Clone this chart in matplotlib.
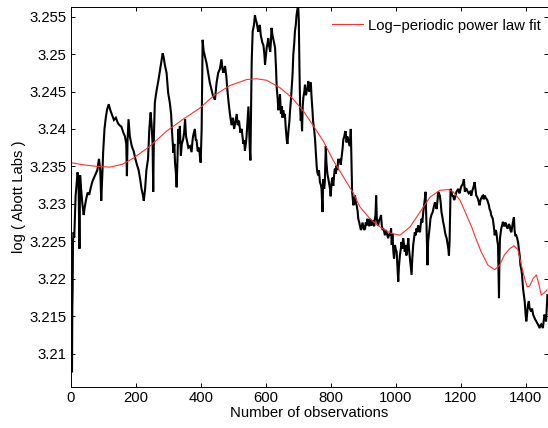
import matplotlib
matplotlib.use("Agg")
import matplotlib.pyplot as plt
import numpy as np

plt.rcParams['font.family'] = ['Liberation Sans', 'DejaVu Sans']

# Observed log price series (observation index, value)
obs_idx = [
    0, 1, 2, 3, 4, 5, 6, 7, 9, 11, 13, 15, 18, 21, 24, 27, 29, 32, 36, 40,
    43, 47, 52, 57, 62, 67, 72, 77, 82, 87, 91, 94, 97, 100, 104, 108, 112, 117, 122, 128,
    133, 139, 145, 150, 156, 162, 167, 171, 173, 175, 178, 182, 188, 194, 199, 204, 209, 213, 218, 222,
    225, 229, 233, 238, 242, 246, 249, 252, 254, 256, 259, 262, 265, 270, 275, 279, 283, 286, 290, 295,
    300, 305, 309, 312, 316, 319, 321, 324, 326, 329, 331, 334, 336, 339, 342, 346, 349, 352, 355, 357,
    362, 367, 372, 375, 377, 382, 385, 387, 391, 395, 398, 400, 403, 405, 406, 409, 413, 418, 423, 428,
    433, 438, 444, 449, 454, 459, 464, 467, 470, 475, 479, 482, 486, 490, 495, 499, 503, 507, 511, 514,
    518, 522, 526, 529, 531, 534, 536, 539, 541, 544, 547, 549, 551, 553, 555, 557, 560, 564, 567, 570,
    572, 575, 577, 580, 582, 585, 587, 590, 593, 596, 598, 600, 603, 606, 608, 611, 614, 616, 618, 621,
    623, 626, 629, 632, 634, 637, 639, 642, 644, 647, 650, 652, 654, 657, 659, 662, 665, 667, 670, 673,
    675, 678, 680, 683, 685, 688, 690, 693, 695, 698, 700, 702, 704, 706, 708, 710, 712, 714, 716, 719,
    721, 724, 726, 729, 731, 734, 736, 739, 741, 744, 746, 749, 752, 755, 757, 759, 762, 764, 767, 770,
    772, 775, 777, 780, 782, 784, 785, 787, 790, 793, 796, 798, 800, 803, 806, 808, 811, 813, 816, 818,
    821, 823, 826, 829, 831, 834, 837, 839, 842, 844, 846, 849, 851, 854, 857, 859, 862, 864, 866, 868,
    870, 873, 875, 878, 880, 883, 885, 888, 890, 893, 895, 898, 900, 903, 906, 908, 911, 913, 916, 919,
    921, 924, 926, 929, 931, 934, 936, 938, 940, 942, 944, 946, 949, 952, 955, 957, 960, 962, 965, 967,
    970, 972, 975, 977, 980, 983, 986, 988, 990, 993, 995, 998, 1000, 1003, 1005, 1008, 1010, 1013, 1016, 1018,
    1021, 1023, 1026, 1028, 1031, 1033, 1036, 1039, 1041, 1044, 1047, 1049, 1051, 1054, 1057, 1059, 1062, 1064, 1067, 1069,
    1072, 1075, 1077, 1080, 1082, 1085, 1088, 1090, 1092, 1095, 1098, 1100, 1103, 1105, 1107, 1110, 1114, 1117, 1121, 1124,
    1126, 1129, 1131, 1134, 1136, 1139, 1141, 1144, 1146, 1149, 1152, 1154, 1157, 1160, 1162, 1164, 1166, 1167, 1169, 1172,
    1175, 1177, 1180, 1182, 1185, 1187, 1190, 1193, 1196, 1198, 1201, 1203, 1206, 1208, 1210, 1213, 1216, 1218, 1222, 1225,
    1229, 1233, 1236, 1238, 1241, 1243, 1246, 1248, 1251, 1253, 1256, 1258, 1261, 1263, 1266, 1269, 1271, 1274, 1277, 1279,
    1282, 1284, 1287, 1289, 1292, 1294, 1297, 1299, 1302, 1305, 1307, 1310, 1313, 1315, 1317, 1318, 1319, 1321, 1323, 1325,
    1328, 1330, 1333, 1335, 1338, 1340, 1343, 1345, 1348, 1351, 1353, 1356, 1359, 1361, 1364, 1366, 1368, 1371, 1374, 1377,
    1379, 1382, 1384, 1387, 1389, 1392, 1394, 1397, 1400, 1402, 1404, 1407, 1410, 1412, 1415, 1417, 1420, 1423, 1425, 1428,
    1430, 1433, 1435, 1438, 1440, 1443, 1446, 1448, 1451, 1453, 1456, 1458, 1461, 1463, 1465, 1467,
]
log_price = [
    3.2165, 3.2150, 3.2180, 3.2140, 3.2075, 3.2160, 3.2185, 3.2250, 3.2262, 3.2255, 3.2285, 3.2310, 3.2325, 3.2342, 3.2335, 3.2240, 3.2338, 3.2320, 3.2300, 3.2285,
    3.2295, 3.2305, 3.2315, 3.2312, 3.2322, 3.2330, 3.2335, 3.2340, 3.2345, 3.2360, 3.2345, 3.2304, 3.2335, 3.2370, 3.2400, 3.2415, 3.2426, 3.2433, 3.2425, 3.2418,
    3.2412, 3.2415, 3.2408, 3.2405, 3.2403, 3.2395, 3.2390, 3.2380, 3.2337, 3.2385, 3.2413, 3.2390, 3.2377, 3.2370, 3.2360, 3.2352, 3.2345, 3.2335, 3.2320, 3.2312,
    3.2304, 3.2320, 3.2345, 3.2360, 3.2400, 3.2422, 3.2405, 3.2380, 3.2316, 3.2390, 3.2435, 3.2445, 3.2453, 3.2465, 3.2479, 3.2490, 3.2501, 3.2496, 3.2485, 3.2475,
    3.2448, 3.2435, 3.2420, 3.2395, 3.2368, 3.2380, 3.2355, 3.2340, 3.2322, 3.2365, 3.2400, 3.2380, 3.2404, 3.2364, 3.2380, 3.2386, 3.2395, 3.2413, 3.2390, 3.2386,
    3.2375, 3.2377, 3.2369, 3.2385, 3.2391, 3.2400, 3.2385, 3.2386, 3.2370, 3.2375, 3.2362, 3.2355, 3.2400, 3.2480, 3.2519, 3.2505, 3.2497, 3.2488, 3.2475, 3.2462,
    3.2453, 3.2444, 3.2439, 3.2462, 3.2475, 3.2480, 3.2493, 3.2480, 3.2475, 3.2484, 3.2470, 3.2453, 3.2435, 3.2420, 3.2405, 3.2415, 3.2400, 3.2410, 3.2420, 3.2405,
    3.2411, 3.2395, 3.2400, 3.2389, 3.2380, 3.2385, 3.2371, 3.2380, 3.2389, 3.2410, 3.2430, 3.2400, 3.2375, 3.2358, 3.2420, 3.2490, 3.2530, 3.2539, 3.2552, 3.2545,
    3.2543, 3.2535, 3.2530, 3.2535, 3.2539, 3.2525, 3.2521, 3.2515, 3.2512, 3.2500, 3.2486, 3.2495, 3.2508, 3.2515, 3.2521, 3.2510, 3.2503, 3.2515, 3.2535, 3.2525,
    3.2521, 3.2515, 3.2508, 3.2480, 3.2455, 3.2440, 3.2425, 3.2435, 3.2446, 3.2420, 3.2430, 3.2415, 3.2425, 3.2418, 3.2420, 3.2400, 3.2385, 3.2380, 3.2397, 3.2410,
    3.2424, 3.2440, 3.2455, 3.2475, 3.2499, 3.2515, 3.2530, 3.2540, 3.2552, 3.2560, 3.2566, 3.2545, 3.2480, 3.2430, 3.2411, 3.2420, 3.2397, 3.2430, 3.2442, 3.2450,
    3.2459, 3.2445, 3.2450, 3.2455, 3.2464, 3.2450, 3.2457, 3.2462, 3.2444, 3.2425, 3.2410, 3.2400, 3.2386, 3.2364, 3.2350, 3.2342, 3.2338, 3.2345, 3.2329, 3.2325,
    3.2320, 3.2289, 3.2333, 3.2320, 3.2329, 3.2360, 3.2377, 3.2355, 3.2340, 3.2333, 3.2325, 3.2320, 3.2310, 3.2329, 3.2335, 3.2324, 3.2340, 3.2347, 3.2340, 3.2351,
    3.2345, 3.2360, 3.2355, 3.2360, 3.2352, 3.2364, 3.2375, 3.2386, 3.2390, 3.2395, 3.2397, 3.2382, 3.2390, 3.2386, 3.2380, 3.2377, 3.2400, 3.2360, 3.2316, 3.2307,
    3.2298, 3.2305, 3.2311, 3.2300, 3.2298, 3.2290, 3.2280, 3.2275, 3.2271, 3.2265, 3.2267, 3.2275, 3.2271, 3.2265, 3.2267, 3.2275, 3.2271, 3.2280, 3.2276, 3.2270,
    3.2280, 3.2275, 3.2271, 3.2278, 3.2276, 3.2270, 3.2280, 3.2285, 3.2311, 3.2280, 3.2275, 3.2271, 3.2278, 3.2280, 3.2285, 3.2272, 3.2265, 3.2267, 3.2262, 3.2258,
    3.2265, 3.2262, 3.2258, 3.2254, 3.2260, 3.2258, 3.2267, 3.2245, 3.2260, 3.2236, 3.2227, 3.2245, 3.2240, 3.2236, 3.2220, 3.2196, 3.2215, 3.2231, 3.2240, 3.2249,
    3.2240, 3.2254, 3.2245, 3.2236, 3.2245, 3.2231, 3.2240, 3.2254, 3.2240, 3.2227, 3.2215, 3.2205, 3.2225, 3.2245, 3.2255, 3.2262, 3.2258, 3.2267, 3.2262, 3.2271,
    3.2268, 3.2262, 3.2272, 3.2280, 3.2275, 3.2289, 3.2300, 3.2307, 3.2316, 3.2271, 3.2218, 3.2250, 3.2262, 3.2270, 3.2280, 3.2285, 3.2289, 3.2295, 3.2302, 3.2298,
    3.2293, 3.2305, 3.2316, 3.2313, 3.2311, 3.2300, 3.2289, 3.2282, 3.2276, 3.2270, 3.2262, 3.2258, 3.2254, 3.2245, 3.2240, 3.2231, 3.2250, 3.2271, 3.2320, 3.2316,
    3.2310, 3.2311, 3.2305, 3.2307, 3.2312, 3.2316, 3.2318, 3.2320, 3.2314, 3.2316, 3.2322, 3.2324, 3.2326, 3.2329, 3.2333, 3.2316, 3.2320, 3.2320, 3.2316, 3.2314,
    3.2316, 3.2311, 3.2318, 3.2320, 3.2325, 3.2329, 3.2318, 3.2311, 3.2309, 3.2307, 3.2302, 3.2298, 3.2305, 3.2307, 3.2310, 3.2311, 3.2306, 3.2311, 3.2308, 3.2307,
    3.2305, 3.2302, 3.2298, 3.2293, 3.2290, 3.2285, 3.2282, 3.2280, 3.2270, 3.2258, 3.2265, 3.2262, 3.2250, 3.2245, 3.2200, 3.2174, 3.2215, 3.2254, 3.2260, 3.2267,
    3.2272, 3.2276, 3.2270, 3.2271, 3.2275, 3.2271, 3.2268, 3.2267, 3.2273, 3.2271, 3.2265, 3.2262, 3.2270, 3.2276, 3.2282, 3.2265, 3.2258, 3.2258, 3.2254, 3.2248,
    3.2240, 3.2230, 3.2218, 3.2212, 3.2205, 3.2187, 3.2180, 3.2170, 3.2152, 3.2143, 3.2150, 3.2165, 3.2170, 3.2161, 3.2158, 3.2156, 3.2160, 3.2152, 3.2150, 3.2147,
    3.2145, 3.2143, 3.2141, 3.2139, 3.2137, 3.2134, 3.2138, 3.2139, 3.2136, 3.2134, 3.2145, 3.2152, 3.2148, 3.2143, 3.2160, 3.2178,
]

# Log-periodic power law fit (observation index, fitted value)
fit_idx = [
    0, 40, 80, 121, 160, 193, 244, 295, 346, 398, 439, 490, 542, 572, 603, 644, 680, 716, 747, 777,
    808, 839, 870, 890, 921, 952, 983, 1013, 1044, 1075, 1106, 1136, 1162, 1177, 1198, 1218, 1234, 1243, 1263, 1284,
    1305, 1320, 1335, 1351, 1364, 1376, 1387, 1397, 1405, 1412, 1423, 1433, 1440, 1448, 1457, 1466,
]
fit_val = [
    3.2355, 3.2352, 3.2350, 3.2349, 3.2353, 3.2361, 3.2377, 3.2397, 3.2413, 3.2428, 3.2444, 3.2458, 3.2466, 3.2467, 3.2465, 3.2455, 3.2442, 3.2424, 3.2404, 3.2384,
    3.2358, 3.2336, 3.2314, 3.2296, 3.2280, 3.2269, 3.2261, 3.2258, 3.2269, 3.2289, 3.2309, 3.2318, 3.2319, 3.2316, 3.2305, 3.2285, 3.2269, 3.2258, 3.2236, 3.2218,
    3.2212, 3.2218, 3.2232, 3.2240, 3.2244, 3.2239, 3.2218, 3.2200, 3.2189, 3.2190, 3.2200, 3.2205, 3.2194, 3.2178, 3.2181, 3.2185,
]

x_ticks = [0, 200, 400, 600, 800, 1000, 1200, 1400]
y_ticks = [3.21, 3.215, 3.22, 3.225, 3.23, 3.235, 3.24, 3.245, 3.25, 3.255]
y_tick_labels = ['3.21', '3.215', '3.22', '3.225', '3.23', '3.235', '3.24', '3.245', '3.25', '3.255']

fig = plt.figure(figsize=(5.48, 4.28), dpi=100)
ax = fig.add_axes([0.129, 0.0965, 0.8705, 0.8865])

ax.plot(obs_idx, log_price, color='black', lw=1.5, solid_joinstyle='miter')
ax.plot(fit_idx, fit_val, color='#ff3030', lw=0.8, label='Log\u2212periodic power law fit')

ax.set_xlim(0, 1468)
ax.set_ylim(3.20557, 3.25625)
ax.set_xticks(x_ticks)
ax.set_yticks(y_ticks)
ax.set_yticklabels(y_tick_labels)

fs = 10.7
ax.tick_params(direction='in', top=True, right=True, length=3.2, width=0.7,
               labelsize=fs, pad=3.2)
for sp in ax.spines.values():
    sp.set_linewidth(0.7)

ax.set_xlabel('Number of observations', fontsize=fs, labelpad=0.5)
ax.set_ylabel('log ( Abott Labs )', fontsize=fs, labelpad=2)

leg = ax.legend(loc='upper right', bbox_to_anchor=(0.998, 0.986), frameon=False,
                fontsize=fs, handlelength=2.1, handletextpad=0.3,
                borderpad=0.2, borderaxespad=0.2)

fig.savefig('out.png', dpi=100)
